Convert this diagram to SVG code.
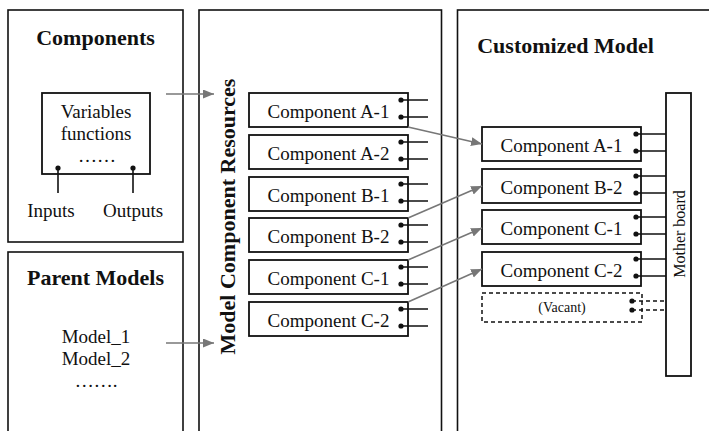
<svg xmlns="http://www.w3.org/2000/svg" width="709" height="431" viewBox="0 0 709 431">
  <defs>
    <style>
      .panel { fill: #fff; stroke: #111; stroke-width: 1.6; }
      .box { fill: #fff; stroke: #111; stroke-width: 1.8; }
      .vac { fill: #fff; stroke: #111; stroke-width: 1.5; stroke-dasharray: 4 3; }
      .pin { stroke: #111; stroke-width: 1.6; fill: none; }
      .pind { stroke: #111; stroke-width: 1.4; fill: none; stroke-dasharray: 4 3; }
      .dot { fill: #111; }
      .title { font-family: "Liberation Serif", "Times New Roman", serif; font-weight: bold; font-size: 22px; fill: #111; }
      .lbl { font-family: "Liberation Serif", "Times New Roman", serif; font-size: 19px; fill: #111; }
      .small { font-family: "Liberation Serif", "Times New Roman", serif; font-size: 14px; fill: #111; }
      .mb { font-family: "Liberation Serif", "Times New Roman", serif; font-size: 16px; fill: #111; }
      .flow { stroke: #777; stroke-width: 1.6; fill: none; marker-end: url(#head); }
    </style>
    <marker id="head" markerUnits="userSpaceOnUse" markerWidth="12" markerHeight="10" refX="11" refY="4.5" orient="auto">
      <path d="M0,0 L11,4.5 L0,9 z" fill="#777"/>
    </marker>
  </defs>

  <rect width="709" height="431" fill="#fff"/>

  <!-- Components panel -->
  <g id="components">
    <rect class="panel" x="8" y="10" width="175" height="232"/>
    <text class="title" x="95.5" y="45" text-anchor="middle">Components</text>
    <rect class="box" x="42" y="93" width="108" height="81"/>
    <text class="lbl" x="96" y="118" text-anchor="middle">Variables</text>
    <text class="lbl" x="96" y="140" text-anchor="middle">functions</text>
    <text class="lbl" x="97" y="162" text-anchor="middle" font-size="15">……</text>
    <line class="pin" x1="58" y1="168" x2="58" y2="193"/>
    <line class="pin" x1="133" y1="168" x2="133" y2="193"/>
    <circle class="dot" cx="58" cy="168" r="2.6"/>
    <circle class="dot" cx="133" cy="168" r="2.6"/>
    <text class="lbl" x="51" y="217" text-anchor="middle">Inputs</text>
    <text class="lbl" x="133" y="217" text-anchor="middle">Outputs</text>
  </g>

  <!-- Parent models panel -->
  <g id="parent-models">
    <rect class="panel" x="8" y="252" width="175" height="190"/>
    <text class="title" x="95.5" y="285" text-anchor="middle">Parent Models</text>
    <text class="lbl" x="96" y="343" text-anchor="middle">Model_1</text>
    <text class="lbl" x="96" y="365" text-anchor="middle">Model_2</text>
    <text class="lbl" x="96" y="387" text-anchor="middle" font-size="17">…….</text>
  </g>

  <!-- Model component resources panel -->
  <g id="resources">
    <rect class="panel" x="199" y="10" width="242.5" height="432"/>
    <text class="title" transform="translate(235,216.5) rotate(-90)" text-anchor="middle">Model Component Resources</text>
  </g>

  <g id="res-a1">
    <rect class="box" x="249" y="93" width="159" height="34"/>
    <text class="lbl" x="328.5" y="118" text-anchor="middle">Component A-1</text>
    <path class="pin" d="M401,100 H428 M401,117 H428"/>
    <circle class="dot" cx="401" cy="100" r="2.6"/><circle class="dot" cx="401" cy="117" r="2.6"/>
  </g>
  <g id="res-a2">
    <rect class="box" x="249" y="135" width="159" height="34"/>
    <text class="lbl" x="328.5" y="160" text-anchor="middle">Component A-2</text>
    <path class="pin" d="M401,142 H428 M401,159 H428"/>
    <circle class="dot" cx="401" cy="142" r="2.6"/><circle class="dot" cx="401" cy="159" r="2.6"/>
  </g>
  <g id="res-b1">
    <rect class="box" x="249" y="177" width="159" height="34"/>
    <text class="lbl" x="328.5" y="202" text-anchor="middle">Component B-1</text>
    <path class="pin" d="M401,184 H428 M401,201 H428"/>
    <circle class="dot" cx="401" cy="184" r="2.6"/><circle class="dot" cx="401" cy="201" r="2.6"/>
  </g>
  <g id="res-b2">
    <rect class="box" x="249" y="218" width="159" height="34"/>
    <text class="lbl" x="328.5" y="243" text-anchor="middle">Component B-2</text>
    <path class="pin" d="M401,225 H428 M401,242 H428"/>
    <circle class="dot" cx="401" cy="225" r="2.6"/><circle class="dot" cx="401" cy="242" r="2.6"/>
  </g>
  <g id="res-c1">
    <rect class="box" x="249" y="260" width="159" height="34"/>
    <text class="lbl" x="328.5" y="285" text-anchor="middle">Component C-1</text>
    <path class="pin" d="M401,267 H428 M401,284 H428"/>
    <circle class="dot" cx="401" cy="267" r="2.6"/><circle class="dot" cx="401" cy="284" r="2.6"/>
  </g>
  <g id="res-c2">
    <rect class="box" x="249" y="302" width="159" height="34"/>
    <text class="lbl" x="328.5" y="327" text-anchor="middle">Component C-2</text>
    <path class="pin" d="M401,309 H428 M401,326 H428"/>
    <circle class="dot" cx="401" cy="309" r="2.6"/><circle class="dot" cx="401" cy="326" r="2.6"/>
  </g>

  <!-- Customized model panel -->
  <g id="customized">
    <rect class="panel" x="457.5" y="10" width="270" height="432"/>
    <text class="title" x="565.5" y="53" text-anchor="middle">Customized Model</text>
  </g>

  <g id="mother-board">
    <rect class="box" x="666" y="93" width="25" height="283"/>
    <text class="mb" transform="translate(684.5,234) rotate(-90)" text-anchor="middle">Mother board</text>
  </g>

  <g id="cm-a1">
    <rect class="box" x="482" y="127" width="159" height="34"/>
    <text class="lbl" x="561.5" y="152" text-anchor="middle">Component A-1</text>
    <path class="pin" d="M636,134 H666 M636,151 H666"/>
    <circle class="dot" cx="636" cy="134" r="2.6"/><circle class="dot" cx="636" cy="151" r="2.6"/>
  </g>
  <g id="cm-b2">
    <rect class="box" x="482" y="169" width="159" height="34"/>
    <text class="lbl" x="561.5" y="194" text-anchor="middle">Component B-2</text>
    <path class="pin" d="M636,176 H666 M636,193 H666"/>
    <circle class="dot" cx="636" cy="176" r="2.6"/><circle class="dot" cx="636" cy="193" r="2.6"/>
  </g>
  <g id="cm-c1">
    <rect class="box" x="482" y="210" width="159" height="34"/>
    <text class="lbl" x="561.5" y="235" text-anchor="middle">Component C-1</text>
    <path class="pin" d="M636,217 H666 M636,234 H666"/>
    <circle class="dot" cx="636" cy="217" r="2.6"/><circle class="dot" cx="636" cy="234" r="2.6"/>
  </g>
  <g id="cm-c2">
    <rect class="box" x="482" y="252" width="159" height="34"/>
    <text class="lbl" x="561.5" y="277" text-anchor="middle">Component C-2</text>
    <path class="pin" d="M636,259 H666 M636,276 H666"/>
    <circle class="dot" cx="636" cy="259" r="2.6"/><circle class="dot" cx="636" cy="276" r="2.6"/>
  </g>
  <g id="cm-vacant">
    <rect class="vac" x="482" y="293" width="160" height="29"/>
    <text class="small" x="562" y="312" text-anchor="middle">(Vacant)</text>
    <path class="pind" d="M632,301 H666 M632,310 H666"/>
    <circle class="dot" cx="632" cy="301" r="2.6"/><circle class="dot" cx="632" cy="310" r="2.6"/>
  </g>

  <!-- Connectors -->
  <g id="connectors">
    <line class="flow" x1="166" y1="94" x2="214" y2="94"/>
    <line class="flow" x1="166" y1="343" x2="214" y2="343"/>
    <line class="flow" x1="408" y1="127" x2="482" y2="144"/>
    <line class="flow" x1="408" y1="218" x2="482" y2="186"/>
    <line class="flow" x1="408" y1="260" x2="482" y2="228"/>
    <line class="flow" x1="408" y1="302" x2="482" y2="269"/>
  </g>
</svg>
